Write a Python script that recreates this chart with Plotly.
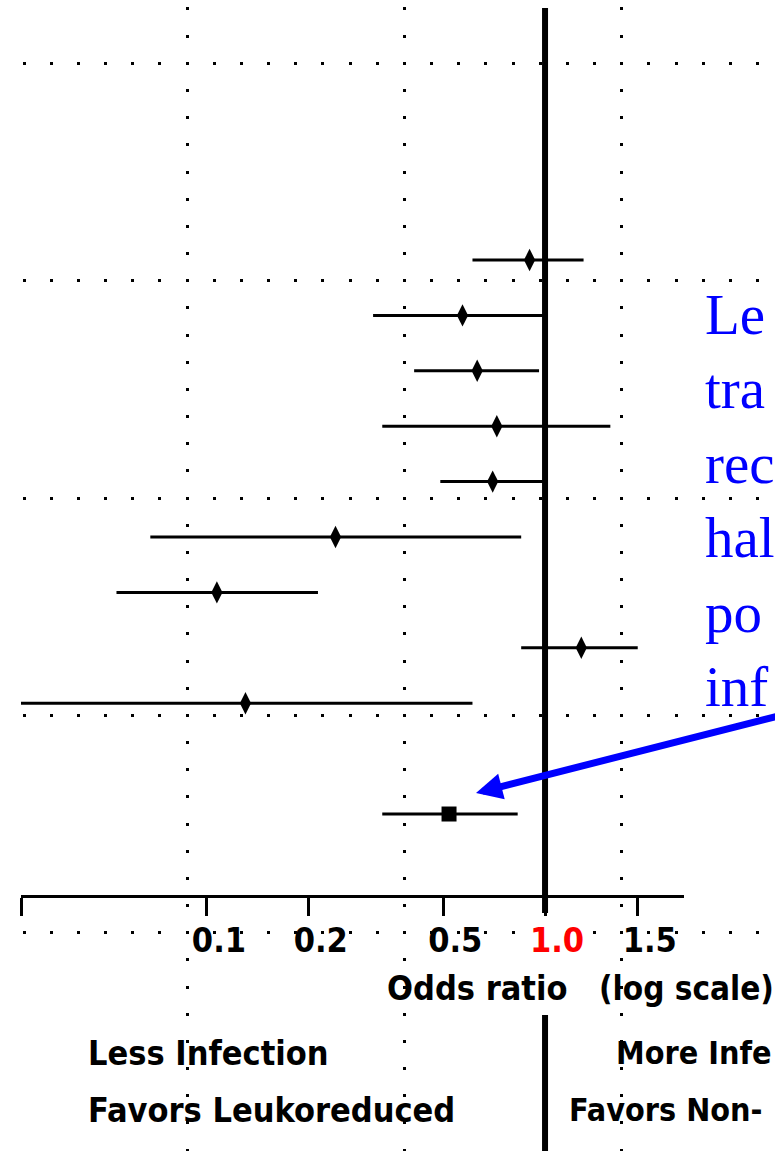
import numpy as np
import plotly.graph_objects as go

# ---------------- data ----------------
study_rows = [1, 2, 3, 4, 5, 6, 7, 8, 9]
odds_ratio = [0.90, 0.57, 0.63, 0.72, 0.70, 0.24, 0.107, 1.28, 0.13]
ci_low = [0.61, 0.31, 0.41, 0.33, 0.49, 0.068, 0.054, 0.85, 0.028]
ci_high = [1.30, 0.99, 0.96, 1.56, 0.99, 0.85, 0.213, 1.88, 0.61]

summary_row = [11]
summary_or = [0.52]
summary_low = [0.33]
summary_high = [0.83]

# the slide labels its right-most tick "1.5", drawn where OR ~ 1.88 sits on the log scale
tick_values = [0.1, 0.2, 0.5, 1.0, 1.88]
tick_labels = ["0.1", "0.2", "0.5", "<span style='color:#ff0000'>1.0</span>", "1.5"]

# text as visible in the (cropped) slide
side_labels_left = ["Less Infection", "Favors Leukoreduced"]
side_labels_right = ["More Infe", "Favors Non-"]
callout_lines = ["Le", "tra", "rec", "hal", "po", "inf"]

# ---------------- layout constants ----------------
W, H = 775, 1151
X_LO, X_HI = -1.550, 0.411          # log10 range of odds-ratio axis
Y_TOP, Y_BOT = -3.549, 12.462       # row range (reversed)
BOLD_FONT = "Liberation Sans Narrow, Arial Narrow, DejaVu Sans Condensed, sans-serif"
SERIF = "Liberation Serif, Times New Roman, serif"

fig = go.Figure()

# study estimates
fig.add_trace(go.Scatter(
    x=odds_ratio, y=study_rows, mode="markers",
    xaxis="x2", yaxis="y2",
    marker=dict(symbol="diamond-tall", size=16, color="black"),
    error_x=dict(type="data", symmetric=False,
                 array=[h - o for h, o in zip(ci_high, odds_ratio)],
                 arrayminus=[o - l for o, l in zip(odds_ratio, ci_low)],
                 color="black", thickness=3, width=0),
    showlegend=False, hoverinfo="skip"))

# pooled estimate
fig.add_trace(go.Scatter(
    x=summary_or, y=summary_row, mode="markers",
    xaxis="x2", yaxis="y2",
    marker=dict(symbol="square", size=15, color="black"),
    error_x=dict(type="data", symmetric=False,
                 array=[h - o for h, o in zip(summary_high, summary_or)],
                 arrayminus=[o - l for o, l in zip(summary_or, summary_low)],
                 color="black", thickness=3, width=0),
    showlegend=False, hoverinfo="skip"))

# background grid subplot in pixel units (slide drawing grid)
p = 27.17
fig.update_layout(
    xaxis=dict(domain=[0, 1], range=[0, W], anchor="y",
               showgrid=True, gridcolor="black", gridwidth=3,
               griddash="0px,7.5px,3px,16.67px",
               tickmode="array", tickvals=[24 + 6 * p, 24 + 14 * p, 24 + 22 * p],
               showticklabels=False, ticks="", zeroline=False, showline=False,
               fixedrange=True),
    yaxis=dict(domain=[0, 1], range=[H, 0], anchor="x",
               showgrid=True, gridcolor="black", gridwidth=3,
               griddash="0px,22.5px,3px,1.67px",
               tickmode="array", tickvals=[9 + (2 + 8 * j) * p for j in range(6)],
               showticklabels=False, ticks="", zeroline=False, showline=False,
               fixedrange=True),
)

fig.update_layout(
    xaxis2=dict(type="log", domain=[21 / W, 684 / W], range=[X_LO, X_HI],
                anchor="y2", showgrid=False, zeroline=False,
                showline=True, linecolor="black", linewidth=3,
                ticks="outside", ticklen=18, tickwidth=3, tickcolor="black",
                tickmode="array", tickvals=[10 ** X_LO] + tick_values,
                ticktext=[""] + tick_labels,
                tickfont=dict(family=BOLD_FONT, size=34, color="black", weight="bold"),
                ticklabelshift=12, ticklabelstandoff=-5),
    yaxis2=dict(domain=[1 - 895 / H, 1 - 8 / H], range=[Y_BOT, Y_TOP],
                anchor="x2", visible=False),
)

# line of no effect (OR = 1)
fig.add_shape(type="line", xref="x2", yref="paper", x0=1, x1=1,
              y0=1 - 913 / H, y1=1 - 8 / H, line=dict(color="black", width=6))
fig.add_shape(type="line", xref="x2", yref="paper", x0=1, x1=1,
              y0=0, y1=1 - 1015 / H, line=dict(color="black", width=6))

# axis captions
lab_font = dict(family=BOLD_FONT, size=34, color="black", weight="bold")
fig.add_annotation(x=385, y=988, xref="x", yref="y", text="Odds ratio",
                   xanchor="left", yanchor="middle", showarrow=False, font=lab_font)
fig.add_annotation(x=597, y=988, xref="x", yref="y", text="(log scale)",
                   xanchor="left", yanchor="middle", showarrow=False,
                   font=dict(family=BOLD_FONT, size=33, color="black", weight="bold"))
for txt, yy in zip(side_labels_left, [1053, 1110]):
    fig.add_annotation(x=86, y=yy, xref="x", yref="y", text=txt,
                       xanchor="left", yanchor="middle", showarrow=False, font=lab_font)
right_font = dict(family=BOLD_FONT, size=32, color="black", weight="bold")
for txt, xx, yy in zip(side_labels_right, [614, 567], [1053, 1110]):
    fig.add_annotation(x=xx, y=yy, xref="x", yref="y", text=txt,
                       xanchor="left", yanchor="middle", showarrow=False, font=right_font)

# blue call-out text
for i, txt in enumerate(callout_lines):
    fig.add_annotation(x=703, y=314 + i * 74.5, xref="x", yref="y", text=txt,
                       xanchor="left", yanchor="middle", showarrow=False,
                       font=dict(family=SERIF, size=57, color="#0000ff"))

# blue arrow to pooled estimate
fig.add_annotation(x=476, y=793, xref="x", yref="y",
                   ax=790, ay=713, axref="x", ayref="y",
                   text="", showarrow=True, arrowhead=2, arrowsize=0.75,
                   arrowwidth=7, arrowcolor="#0000ff")

fig.update_layout(width=W, height=H, margin=dict(l=0, r=0, t=0, b=0),
                  paper_bgcolor="white", plot_bgcolor="rgba(0,0,0,0)",
                  showlegend=False)

fig.write_html("out.html")
